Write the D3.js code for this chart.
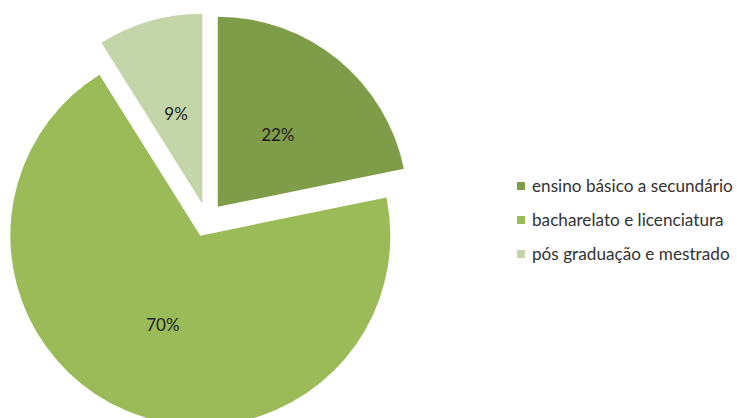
<!DOCTYPE html>
<html>
<head>
<meta charset="utf-8">
<script src="https://cdn.jsdelivr.net/npm/d3@7"></script>
<style>
  html, body { margin: 0; padding: 0; background: #fff; }
  svg { display: block; }
</style>
</head>
<body>
<svg id="chart" width="737" height="418"></svg>
<script>
// Education level shares (percent)
const categories = ["ensino básico a secundário", "bacharelato e licenciatura", "pós graduação e mestrado"];
const values = [22, 70, 9];
const valueLabels = ["22%", "70%", "9%"];
const colors = ["#7f9c48", "#9bbb59", "#c4d6a9"];

const svg = d3.select("#chart");

const cx = 207, cy = 220, radius = 190, explode = 17;

const pie = d3.pie().sort(null).value(d => d);
const arcs = pie(values);
const arc = d3.arc().innerRadius(0).outerRadius(radius);

const g = svg.append("g").attr("transform", `translate(${cx},${cy})`);

// Each slice is pulled out along its mid angle
const slice = g.selectAll("g.slice")
  .data(arcs)
  .enter().append("g")
  .attr("class", "slice")
  .attr("transform", d => {
    const mid = (d.startAngle + d.endAngle) / 2;
    return `translate(${Math.sin(mid) * explode},${-Math.cos(mid) * explode})`;
  });

slice.append("path")
  .attr("d", arc)
  .attr("fill", (d, i) => colors[i]);

slice.append("text")
  .attr("transform", d => {
    const [x, y] = arc.centroid(d);
    return `translate(${x},${y + 2})`;
  })
  .attr("text-anchor", "middle")
  .attr("dy", "0.35em")
  .attr("font-family", "Lato, 'Open Sans', sans-serif")
  .attr("font-size", 17)
  .attr("fill", "#1f1f1f")
  .text((d, i) => valueLabels[i]);

// Legend
const legend = svg.append("g").attr("transform", "translate(517,186)");
const item = legend.selectAll("g.item")
  .data(categories)
  .enter().append("g")
  .attr("class", "item")
  .attr("transform", (d, i) => `translate(0,${i * 34})`);

item.append("rect")
  .attr("x", 0).attr("y", -4)
  .attr("width", 8).attr("height", 8)
  .attr("fill", (d, i) => colors[i]);

item.append("text")
  .attr("x", 15)
  .attr("dy", "0.35em")
  .attr("font-family", "Lato, 'Open Sans', sans-serif")
  .attr("font-size", 16)
  .attr("fill", "#333333")
  .text(d => d);

// Fit legend font so the longest entry spans ~201px
const first = item.select("text").node();
const w = first.getComputedTextLength();
const fs = 16 * 201 / w;
item.selectAll("text").attr("font-size", fs.toFixed(2));
</script>
</body>
</html>
